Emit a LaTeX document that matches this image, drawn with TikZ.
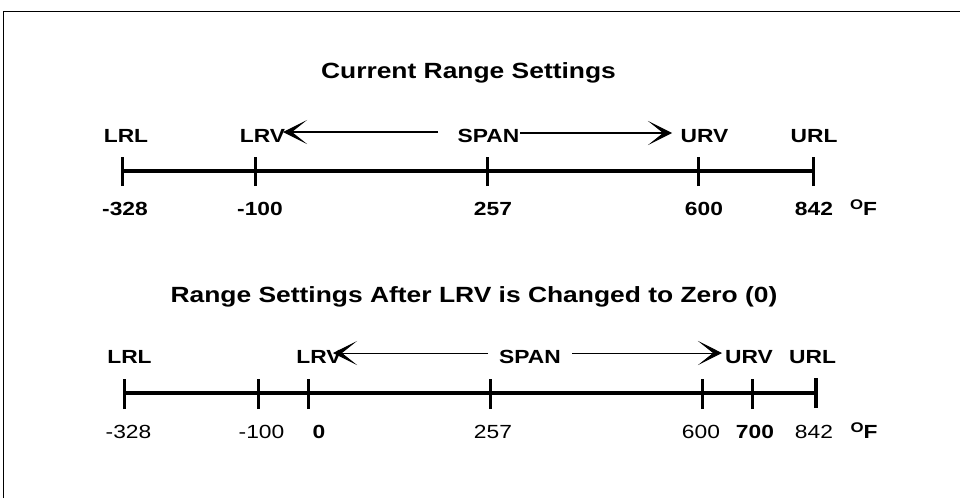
\documentclass[tikz,border=0pt]{standalone}
\usepackage{fontspec}
\setmainfont{Liberation Sans}
\newfontfamily\af[FakeStretch=1.2]{Liberation Sans}
\usetikzlibrary{arrows.meta}
\tikzset{
  ttl/.style={anchor=base,inner sep=0pt,font=\af\fontsize{22}{26}\selectfont\bfseries},
  lbl/.style={anchor=base,inner sep=0pt,font=\af\fontsize{19}{22}\selectfont\bfseries},
  num/.style={anchor=base,inner sep=0pt,font=\af\fontsize{19}{22}\selectfont},
  axisline/.style={line width=4.5pt},
  tickmark/.style={line width=3pt},
  spanarrow/.style={line width=1.3pt,-{Stealth[length=24pt,width=24pt,inset=15pt]}},
  frameline/.style={line width=1pt}
}
\newcommand{\degF}{\raisebox{6pt}{\fontsize{14}{14}\selectfont O}F}
\begin{document}
\begin{tikzpicture}[x=1pt,y=-1pt]
\useasboundingbox (0,0) rectangle (960,498);
% frame
\coordinate (fbl) at (3,498);
\coordinate (ftl) at (3,11);
\coordinate (ftr) at (960,11);
\draw[frameline] (fbl) -- (ftl) -- (ftr);

% ---------- top diagram ----------
\node[ttl] (t1) at (468.5,78) {Current Range Settings};
\node[lbl] (lrl1) at (126,142) {LRL};
\node[lbl] (lrv1) at (262.5,142) {LRV};
\node[lbl] (span1) at (488.5,142) {SPAN};
\node[lbl] (urv1) at (704.5,142) {URV};
\node[lbl] (url1) at (814,142) {URL};

\coordinate (a1s) at (438,132);
\coordinate (a1e) at (283,132);
\coordinate (b1s) at (520,133);
\coordinate (b1e) at (672,133);
\draw[spanarrow] (a1s) -- (a1e);
\draw[spanarrow] (b1s) -- (b1e);

\coordinate (k1a) at (122,171);
\coordinate (k1b) at (255,171);
\coordinate (k1c) at (487,171);
\coordinate (k1d) at (698,171);
\coordinate (k1e) at (813,171);
\draw[axisline] (k1a) -- (k1e);
\foreach \p in {k1a,k1b,k1c,k1d,k1e}
  \draw[tickmark] ([yshift=-15pt]\p) -- ([yshift=14pt]\p);

\node[lbl] (n1a) at (125,215) {-328};
\node[lbl] (n1b) at (260,215) {-100};
\node[lbl] (n1c) at (493,215) {257};
\node[lbl] (n1d) at (704,215) {600};
\node[lbl] (n1e) at (814,215) {842};
\node[lbl] (u1) at (863.5,215) {\degF};

% ---------- bottom diagram ----------
\node[ttl] (t2) at (474,302) {Range Settings After LRV is Changed to Zero (0)};
\node[lbl] (lrl2) at (129.5,363) {LRL};
\node[lbl] (lrv2) at (319,363) {LRV};
\node[lbl] (span2) at (530,363) {SPAN};
\node[lbl] (urv2) at (749,363) {URV};
\node[lbl] (url2) at (812.5,363) {URL};

\coordinate (a2s) at (488,353);
\coordinate (a2e) at (333,353);
\coordinate (b2s) at (572,353);
\coordinate (b2e) at (722,353);
\draw[spanarrow,line width=1pt] (a2s) -- (a2e);
\draw[spanarrow,line width=1pt] (b2s) -- (b2e);

\coordinate (k2a) at (124,393);
\coordinate (k2b) at (258,393);
\coordinate (k2c) at (308,393);
\coordinate (k2d) at (490,393);
\coordinate (k2e) at (702,393);
\coordinate (k2f) at (752,393);
\coordinate (k2g) at (816,393);
\draw[axisline] (k2a) -- (k2g);
\foreach \p in {k2a,k2b,k2c,k2d,k2e,k2f}
  \draw[tickmark] ([yshift=-16pt]\p) -- ([yshift=14pt]\p);
\draw[tickmark,line width=4pt] ([yshift=-15pt]k2g) -- ([yshift=15pt]k2g);

\node[num] (n2a) at (128.5,438) {-328};
\node[num] (n2b) at (261.5,438) {-100};
\node[lbl] (n2c) at (319,438) {0};
\node[num] (n2d) at (493,438) {257};
\node[num] (n2e) at (701,438) {600};
\node[lbl] (n2f) at (755,438) {700};
\node[num] (n2g) at (814,438) {842};
\node[lbl] (u2) at (864,438) {\degF};
\end{tikzpicture}
\end{document}
